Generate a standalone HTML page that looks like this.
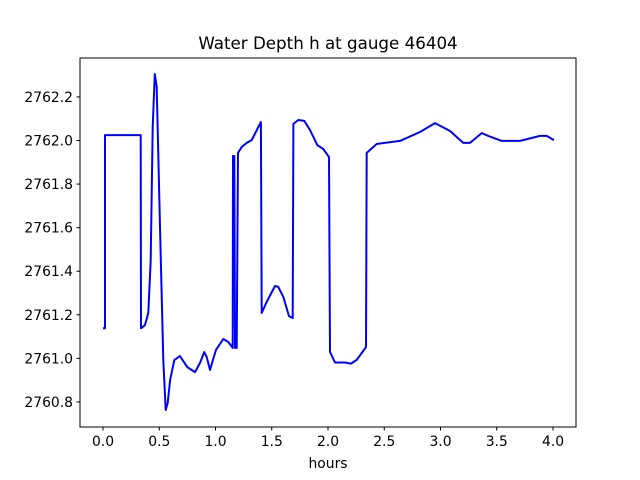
<!DOCTYPE html>
<html><head><meta charset="utf-8"><style>body{margin:0;background:#fff}svg{display:block;font-family:"DejaVu Sans","Liberation Sans",sans-serif}</style></head>
<body>
<svg id="chart" width="640" height="480">
<rect width="640" height="480" fill="#fff"/>
<text x="328" y="49" font-size="16.7" text-anchor="middle">Water Depth h at gauge 46404</text>
<text x="328" y="468" font-size="13.9" text-anchor="middle">hours</text>
<g id="ticks"></g>
<polyline id="series" fill="none" stroke="#0000ff" stroke-width="2" stroke-linejoin="round"/>
<rect x="80" y="58" width="496" height="369" fill="none" stroke="#000" stroke-width="1"/>
</svg>
<script>
const hours=[0.0,0.018,0.018,0.335,0.338,0.373,0.403,0.424,0.442,0.46,0.477,0.507,0.536,0.557,0.575,0.596,0.634,0.684,0.749,0.818,0.862,0.9,0.922,0.951,1.004,1.069,1.114,1.153,1.156,1.167,1.173,1.188,1.2,1.233,1.277,1.322,1.404,1.411,1.455,1.529,1.558,1.603,1.653,1.686,1.692,1.736,1.789,1.84,1.905,1.958,2.009,2.018,2.062,2.151,2.204,2.255,2.338,2.344,2.433,2.64,2.818,2.951,3.084,3.203,3.262,3.366,3.425,3.544,3.707,3.884,3.944,4.009];
const depth=[2761.138,2761.138,2762.025,2762.025,2761.138,2761.153,2761.208,2761.451,2762.062,2762.305,2762.246,2761.603,2760.992,2760.763,2760.795,2760.9,2760.992,2761.011,2760.96,2760.937,2760.979,2761.029,2761.006,2760.947,2761.038,2761.089,2761.075,2761.048,2761.929,2761.929,2761.048,2761.048,2761.943,2761.97,2761.989,2762.002,2762.085,2761.208,2761.259,2761.332,2761.328,2761.282,2761.194,2761.185,2762.076,2762.094,2762.09,2762.048,2761.979,2761.961,2761.924,2761.029,2760.981,2760.981,2760.976,2760.993,2761.052,2761.943,2761.984,2761.998,2762.039,2762.08,2762.044,2761.989,2761.989,2762.034,2762.021,2761.998,2761.998,2762.021,2762.021,2762.002];
const xTicks=[0.0,0.5,1.0,1.5,2.0,2.5,3.0,3.5,4.0];
const yTicks=[2760.8,2761.0,2761.2,2761.4,2761.6,2761.8,2762.0,2762.2];
const xs=v=>103+(v)*112.5;
const ys=v=>140.5-(v-2762.0)*217.86;
const NS="http://www.w3.org/2000/svg";
const line=document.getElementById('series');
line.setAttribute('points',hours.map((h,i)=>xs(h).toFixed(1)+','+ys(depth[i]).toFixed(1)).join(' '));
const g=document.getElementById('ticks');
xTicks.forEach(t=>{
  const l=document.createElementNS(NS,'line');
  
  
  l.setAttribute('x1',xs(t));l.setAttribute('x2',xs(t));l.setAttribute('y1',427);l.setAttribute('y2',430.5);l.setAttribute('stroke','#000');
  g.appendChild(l);
  const tx=document.createElementNS(NS,'text');
  
  
  tx.setAttribute('x',xs(t));tx.setAttribute('y',446);tx.setAttribute('font-size','13.9');tx.setAttribute('text-anchor','middle');
  tx.textContent=t.toFixed(1);
  g.appendChild(tx);
});
yTicks.forEach(t=>{
  const l=document.createElementNS(NS,'line');
  
  
  l.setAttribute('x1',76.5);l.setAttribute('x2',80);l.setAttribute('y1',ys(t));l.setAttribute('y2',ys(t));l.setAttribute('stroke','#000');
  g.appendChild(l);
  const tx=document.createElementNS(NS,'text');
  
  
  tx.setAttribute('x',73);tx.setAttribute('y',ys(t)+5);tx.setAttribute('font-size','13.9');tx.setAttribute('text-anchor','end');
  tx.textContent=t.toFixed(1);
  g.appendChild(tx);
});
</script>
</body></html>
